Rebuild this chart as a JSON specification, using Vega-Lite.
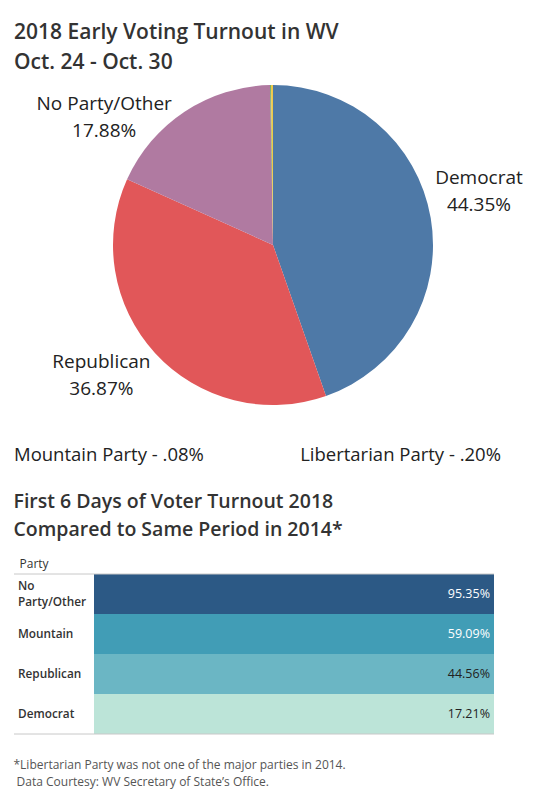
{
  "$schema": "https://vega.github.io/schema/vega-lite/v6.json",
  "padding": {"left": 13, "top": 22, "right": 5, "bottom": 5},
  "spacing": 20,
  "datasets": {
    "turnout": [
      {"party": "Democrat", "pct": 44.35, "order": 1},
      {"party": "Republican", "pct": 36.87, "order": 2},
      {"party": "No Party/Other", "pct": 17.88, "order": 3},
      {"party": "Mountain Party", "pct": 0.08, "order": 4},
      {"party": "Libertarian Party", "pct": 0.2, "order": 5}
    ],
    "change": [
      {"party": "No Party/Other", "pct": 95.35},
      {"party": "Mountain", "pct": 59.09},
      {"party": "Republican", "pct": 44.56},
      {"party": "Democrat", "pct": 17.21}
    ]
  },
  "title": {
    "text": ["*Libertarian Party was not one of the major parties in 2014.", "\u200b\u00a0Data Courtesy: WV Secretary of State’s Office."],
    "orient": "bottom", "anchor": "start", "fontSize": 12, "fontWeight": "normal",
    "color": "#555", "lineHeight": 17, "offset": 25
  },
  "vconcat": [
    {
      "title": {"text": ["2018 Early Voting Turnout in WV", "Oct. 24 - Oct. 30"], "anchor": "start", "fontSize": 21, "lineHeight": 30, "offset": 7},
      "width": 518,
      "height": 330,
      "data": {"name": "turnout"},
      "layer": [
        {
          "mark": {"type": "arc", "outerRadius": 160},
          "encoding": {
            "theta": {"field": "pct", "type": "quantitative"},
            "order": {"field": "order"},
            "color": {
              "field": "party", "type": "nominal", "legend": null,
              "scale": {
                "domain": ["Democrat", "Republican", "No Party/Other", "Mountain Party", "Libertarian Party"],
                "range": ["#4e79a7", "#e15759", "#b07aa1", "#59a14f", "#edc948"]
              }
            }
          }
        },
        {
          "transform": [
            {"window": [{"op": "sum", "field": "pct", "as": "cum"}], "sort": [{"field": "order"}]},
            {"calculate": "datum.cum - datum.pct / 2", "as": "mid"},
            {"calculate": "[datum.party, format(datum.pct, '.2f') + '%']", "as": "label"},
            {"filter": "datum.order <= 3"}
          ],
          "mark": {
            "type": "text", "radius": 214, "fontSize": 19, "lineHeight": 27, "color": "#222",
            "dx": {"expr": "datum.order == 1 ? -5 : datum.order == 2 ? -14 : -51"},
            "dy": {"expr": "datum.order == 1 ? -31 : datum.order == 2 ? -28 : 38"}
          },
          "encoding": {
            "theta": {"field": "mid", "type": "quantitative", "stack": false},
            "text": {"field": "label"}
          }
        }
      ]
    },
    {
      "width": 487,
      "height": 41,
      "data": {"name": "turnout"},
      "transform": [
        {"filter": "datum.order >= 4"},
        {"calculate": "datum.party + ' - ' + replace(format(datum.pct, '.2f'), '0.', '.') + '%'", "as": "label"}
      ],
      "mark": {
        "type": "text", "fontSize": 18.5, "color": "#222", "dy": 4,
        "align": {"expr": "datum.party == 'Mountain Party' ? 'left' : 'right'"}
      },
      "encoding": {
        "x": {"field": "party", "type": "nominal", "sort": ["Mountain Party", "Libertarian Party"], "scale": {"type": "point", "padding": 0}, "axis": null},
        "text": {"field": "label"}
      }
    },
    {
      "title": {"text": ["First 6 Days of Voter Turnout 2018", "Compared to Same Period in 2014*"], "anchor": "start", "fontSize": 19.5, "lineHeight": 28, "offset": 17},
      "width": 480,
      "height": 160,
      "data": {"name": "change"},
      "encoding": {
        "y": {
          "field": "party", "type": "nominal",
          "sort": ["No Party/Other", "Mountain", "Republican", "Democrat"],
          "scale": {"paddingInner": 0, "paddingOuter": 0},
          "axis": {
            "labels": false, "ticks": false, "domain": false, "grid": false,
            "title": "Party", "titleAngle": 0, "titleAlign": "left", "titleBaseline": "bottom",
            "titleX": 5, "titleY": -4, "titleFontWeight": "normal", "titleFontSize": 12, "titleColor": "#333"
          }
        }
      },
      "layer": [
        {
          "mark": "rect",
          "encoding": {
            "x": {"datum": 0, "type": "quantitative", "scale": {"domain": [-20, 100]}, "axis": null},
            "x2": {"datum": 100},
            "color": {"field": "pct", "type": "quantitative", "scale": {"scheme": "tealblues"}, "legend": null}
          }
        },
        {
          "transform": [{"calculate": "datum.party == 'No Party/Other' ? ['No', 'Party/Other'] : datum.party", "as": "label"}],
          "mark": {
            "type": "text", "align": "left", "dx": 4, "fontSize": 11.8, "fontWeight": 600, "lineHeight": 16, "color": "#333",
            "dy": {"expr": "datum.party == 'No Party/Other' ? -8 : 0"}
          },
          "encoding": {
            "x": {"datum": -20, "type": "quantitative"},
            "text": {"field": "label"}
          }
        },
        {
          "transform": [{"calculate": "format(datum.pct, '.2f') + '%'", "as": "label"}],
          "mark": {"type": "text", "align": "right", "dx": -4, "fontSize": 12.5},
          "encoding": {
            "x": {"datum": 100, "type": "quantitative"},
            "text": {"field": "label"},
            "color": {"condition": {"test": "datum.pct > 50", "value": "white"}, "value": "#222"}
          }
        },
        {
          "transform": [{"filter": "datum.party == 'No Party/Other'"}],
          "mark": {"type": "rule", "color": "#c8c8c8"},
          "encoding": {"y": {"field": "party", "type": "nominal", "bandPosition": 0}}
        },
        {
          "transform": [{"filter": "datum.party == 'Democrat'"}],
          "mark": {"type": "rule", "color": "#c8c8c8"},
          "encoding": {"y": {"field": "party", "type": "nominal", "bandPosition": 1}}
        }
      ]
    }
  ],
  "config": {
    "font": "Open Sans",
    "view": {"stroke": null},
    "title": {"color": "#333", "fontWeight": 600}
  }
}
